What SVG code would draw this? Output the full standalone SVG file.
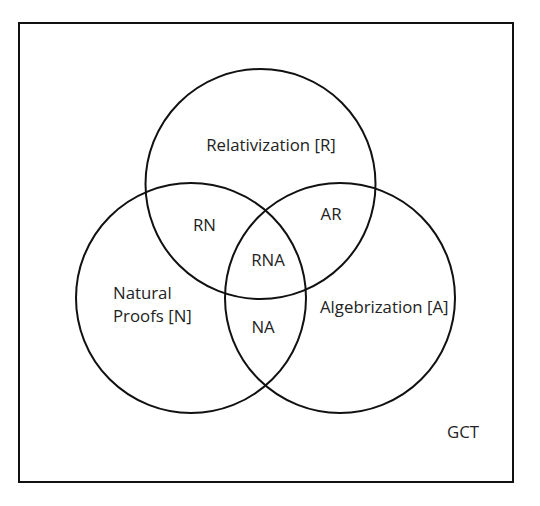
<svg xmlns="http://www.w3.org/2000/svg" width="540" height="506" viewBox="0 0 540 506">
<style>
.c{fill:none;stroke:#111;stroke-width:2}
.t{font-family:"Open Sans","Liberation Sans",sans-serif;font-size:16.8px;fill:#222}
</style>
<rect x="0" y="0" width="540" height="506" fill="#fff"/>
<g id="frame"><rect x="19" y="23" width="494" height="459" class="c"/></g>
<g id="R"><circle cx="260.5" cy="184" r="115" class="c"/></g>
<g id="N"><circle cx="191" cy="298" r="115" class="c"/></g>
<g id="A"><circle cx="340" cy="298" r="115" class="c"/></g>
<g id="labels" class="t">
<text x="271" y="151" text-anchor="middle">Relativization [R]</text>
<text x="204.5" y="231" text-anchor="middle">RN</text>
<text x="331" y="220" text-anchor="middle">AR</text>
<text x="268" y="266" text-anchor="middle">RNA</text>
<text x="263" y="333" text-anchor="middle">NA</text>
<text x="113" y="299">Natural</text>
<text x="113" y="322">Proofs [N]</text>
<text x="320" y="313">Algebrization [A]</text>
<text x="447" y="438">GCT</text>
</g>
</svg>
